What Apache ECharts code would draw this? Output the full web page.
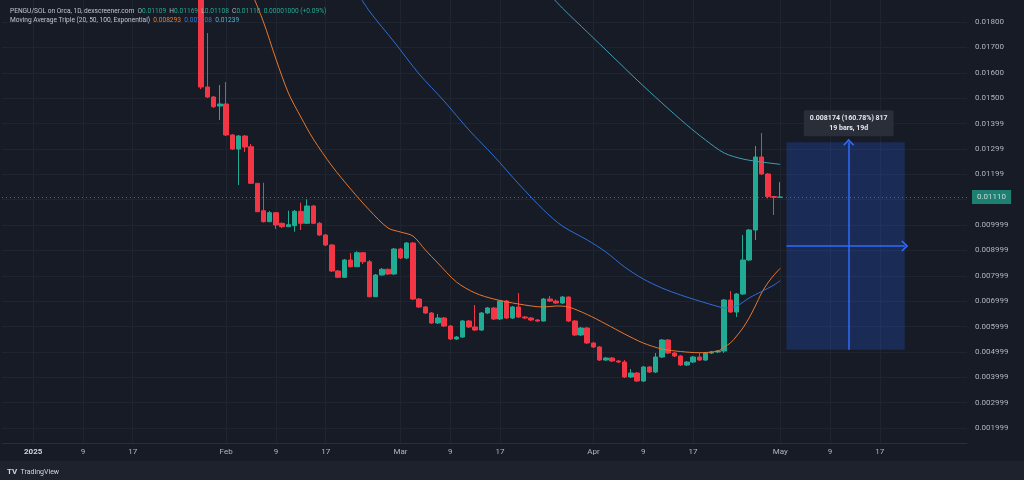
<!DOCTYPE html>
<html>
<head>
<meta charset="utf-8">
<script src="https://cdn.jsdelivr.net/npm/echarts@6/dist/echarts.min.js"></script>
<style>
  html, body { margin: 0; padding: 0; background: #171b26; }
  #chart { width: 1024px; height: 480px; }
</style>
</head>
<body>
<div id="chart"></div>
<script>
// daily candles PENGU/SOL, first visible bar 2025-01-28
const candleStart = '2025-01-28';
const opens = [
  0.01890, 0.015438, 0.015044, 0.014689, 0.014768, 0.013547, 0.012995, 0.013507, 0.013086, 0.011643,
  0.010563, 0.010130, 0.010485, 0.010067, 0.009933, 0.009972, 0.010540, 0.010067, 0.010749, 0.010067,
  0.009606, 0.009212, 0.008187, 0.007939, 0.008620, 0.008356, 0.008908, 0.008553, 0.007174, 0.008029,
  0.008254, 0.008069, 0.009054, 0.008699, 0.009290, 0.007083, 0.006768, 0.006532, 0.006138, 0.006335,
  0.006019, 0.005507, 0.005586, 0.006216, 0.005980, 0.005862, 0.006532, 0.006729, 0.006296, 0.007004,
  0.006335, 0.006768, 0.006374, 0.006335, 0.006256, 0.006216, 0.007083, 0.007004, 0.006926, 0.007162,
  0.006216, 0.005665, 0.005941, 0.005350, 0.005192, 0.004679, 0.004758, 0.004640, 0.004600, 0.004010,
  0.004167, 0.003852, 0.004404, 0.004207, 0.004797, 0.005468, 0.004955, 0.004837, 0.004482, 0.004600,
  0.004797, 0.004679, 0.004955, 0.004994, 0.005034, 0.007044, 0.006571, 0.007281, 0.008620, 0.009803,
  0.012680, 0.012010, 0.011120, 0.011090
];
const closes = [
  0.015438, 0.015044, 0.014662, 0.014768, 0.013547, 0.012995, 0.013507, 0.013074, 0.011643, 0.010524,
  0.010130, 0.010485, 0.010000, 0.009933, 0.010012, 0.010540, 0.010067, 0.010749, 0.010067, 0.009606,
  0.009212, 0.008187, 0.007939, 0.008620, 0.008356, 0.008908, 0.008553, 0.007174, 0.008029, 0.008254,
  0.008069, 0.009054, 0.008699, 0.009290, 0.007083, 0.006768, 0.006532, 0.006138, 0.006335, 0.006019,
  0.005507, 0.005586, 0.006216, 0.005980, 0.005862, 0.006532, 0.006729, 0.006296, 0.007004, 0.006335,
  0.006768, 0.006374, 0.006335, 0.006256, 0.006216, 0.007083, 0.007004, 0.006926, 0.007162, 0.006216,
  0.005665, 0.005941, 0.005350, 0.005192, 0.004679, 0.004758, 0.004640, 0.004600, 0.004010, 0.004167,
  0.003852, 0.004404, 0.004207, 0.004797, 0.005468, 0.004955, 0.004837, 0.004482, 0.004600, 0.004797,
  0.004679, 0.004955, 0.004994, 0.005034, 0.007044, 0.006571, 0.007281, 0.008620, 0.009803, 0.012680,
  0.012010, 0.011120, 0.011090, 0.011100
];
const lows = [
  0.015359, 0.015005, 0.014611, 0.014138, 0.013507, 0.012956, 0.011576, 0.012877, 0.011616, 0.010512,
  0.010098, 0.010118, 0.009842, 0.009882, 0.009921, 0.009736, 0.009803, 0.010039, 0.010039, 0.009566,
  0.009172, 0.008147, 0.007911, 0.007911, 0.008325, 0.008345, 0.008463, 0.007142, 0.007162, 0.008010,
  0.008029, 0.008029, 0.008660, 0.008660, 0.007044, 0.006729, 0.006492, 0.006098, 0.006098, 0.005980,
  0.005468, 0.005468, 0.005546, 0.005941, 0.005822, 0.005822, 0.006492, 0.006256, 0.006256, 0.006296,
  0.006296, 0.006335, 0.006296, 0.006216, 0.006177, 0.006197, 0.006965, 0.006886, 0.006886, 0.006177,
  0.005625, 0.005625, 0.005310, 0.005152, 0.004640, 0.004640, 0.004600, 0.004561, 0.003970, 0.003970,
  0.003813, 0.003813, 0.004167, 0.004167, 0.004758, 0.004915, 0.004797, 0.004443, 0.004443, 0.004561,
  0.004640, 0.004640, 0.004915, 0.004955, 0.004955, 0.006532, 0.006374, 0.007241, 0.008581, 0.009409,
  0.011970, 0.011044, 0.010394, 0.011080
];
const highs = [
  0.01900, 0.017566, 0.015084, 0.015517, 0.015635, 0.013586, 0.013547, 0.013547, 0.013192, 0.011655,
  0.011667, 0.010552, 0.010512, 0.010098, 0.010563, 0.010591, 0.010879, 0.011013, 0.010788, 0.010118,
  0.009645, 0.009251, 0.008226, 0.008660, 0.008896, 0.008967, 0.008936, 0.008620, 0.008069, 0.008305,
  0.008285, 0.009093, 0.009093, 0.009330, 0.009330, 0.007123, 0.006808, 0.006571, 0.006492, 0.006374,
  0.006059, 0.005625, 0.006256, 0.006256, 0.006847, 0.006571, 0.006768, 0.006768, 0.007044, 0.007044,
  0.006808, 0.007320, 0.006414, 0.006374, 0.006296, 0.007123, 0.007202, 0.007064, 0.007202, 0.007182,
  0.006256, 0.005980, 0.005980, 0.005389, 0.005231, 0.004797, 0.004797, 0.004679, 0.004679, 0.004325,
  0.004207, 0.004443, 0.004443, 0.004955, 0.005507, 0.005507, 0.004994, 0.004876, 0.004640, 0.004837,
  0.004955, 0.004994, 0.005034, 0.005073, 0.007083, 0.007399, 0.007320, 0.009606, 0.009842, 0.013113,
  0.013625, 0.012049, 0.011150, 0.011690
];

const ema20Dates = ['2025-02-05','2025-02-07','2025-02-09','2025-02-11','2025-02-13','2025-02-15','2025-02-18',
  '2025-02-21','2025-02-24','2025-02-27','2025-03-01','2025-03-03','2025-03-05','2025-03-07','2025-03-10',
  '2025-03-13','2025-03-16','2025-03-20','2025-03-24','2025-03-26','2025-03-28','2025-03-31','2025-04-03',
  '2025-04-06','2025-04-09','2025-04-12','2025-04-15','2025-04-18','2025-04-21','2025-04-22','2025-04-23',
  '2025-04-24','2025-04-25','2025-04-26','2025-04-27','2025-04-28','2025-04-29','2025-04-30','2025-05-01'];
const ema20Values = [0.019222, 0.018000, 0.016542, 0.015202, 0.014256, 0.013389, 0.012325,
  0.011418, 0.010591, 0.009882, 0.009724, 0.009566, 0.009015, 0.008502, 0.007753,
  0.007320, 0.007083, 0.006886, 0.006768, 0.006808, 0.006768, 0.006472, 0.006098,
  0.005704, 0.005349, 0.005113, 0.005014, 0.004967, 0.005034, 0.005192, 0.005349,
  0.005625, 0.005940, 0.006335, 0.006808, 0.007320, 0.007714, 0.008029, 0.008293];

const ema50Dates = ['2025-02-21','2025-02-24','2025-02-28','2025-03-04','2025-03-08','2025-03-12','2025-03-16',
  '2025-03-20','2025-03-24','2025-03-27','2025-03-31','2025-04-03','2025-04-06','2025-04-09','2025-04-12',
  '2025-04-15','2025-04-18','2025-04-21','2025-04-22','2025-04-24','2025-04-26','2025-04-28','2025-04-30','2025-05-01'];
const ema50Values = [0.019576, 0.018434, 0.017212, 0.015951, 0.014887, 0.013744, 0.012719,
  0.011616, 0.010591, 0.009960, 0.009409, 0.008936, 0.008345, 0.007872, 0.007517,
  0.007241, 0.007005, 0.006788, 0.006729, 0.006808, 0.007123, 0.007379, 0.007635, 0.007808];

const ema100Dates = ['2025-03-24','2025-03-27','2025-03-31','2025-04-04','2025-04-08','2025-04-12','2025-04-16',
  '2025-04-19','2025-04-22','2025-04-25','2025-04-28','2025-05-01'];
const ema100Values = [0.019340, 0.018552, 0.017606, 0.016660, 0.015714, 0.014808, 0.013941,
  0.013350, 0.012837, 0.012601, 0.012483, 0.012390];

// price scale
const priceTicks = [0.002, 0.003, 0.004, 0.005, 0.006, 0.007, 0.008, 0.009, 0.010, 0.011,
  0.012, 0.013, 0.014, 0.015, 0.016, 0.017, 0.018];
const priceLabels = ['0.001999', '0.002999', '0.003999', '0.004999', '0.005999', '0.006999', '0.007999',
  '0.008999', '0.009999', '0.01099', '0.01199', '0.01299', '0.01399', '0.01500', '0.01600', '0.01700', '0.01800'];
const lastPrice = 0.01110;

// measuring tool
const measureFrom = '2025-05-02';
const measureTo = '2025-05-21';
const measureMid = '2025-05-12';
const measureLow = 0.005084;
const measureHigh = 0.013258;
const measureMidPrice = 0.009172;

const monthNames = ['Jan', 'Feb', 'Mar', 'Apr', 'May', 'Jun', 'Jul', 'Aug', 'Sep', 'Oct', 'Nov', 'Dec'];

const categories = [];
for (let i = 0; i < 156; i++) {
  categories.push(new Date(Date.UTC(2024, 11, 27 + i)).toISOString().slice(0, 10));
}
const offset = categories.indexOf(candleStart);
const candleData = categories.map((c, i) => {
  const k = i - offset;
  return k >= 0 && k < opens.length ? [opens[k], closes[k], lows[k], highs[k]] : '-';
});

function isTickDay(value) {
  const day = +value.slice(8, 10);
  return day === 1 || day === 9 || day === 17;
}

const chart = echarts.init(document.getElementById('chart'));
const font = 'Roboto, "Noto Sans", sans-serif';
const chevron = 'path://M0,10 L10,0 L20,10 L18,12 L10,4 L2,12 Z';

const option = {
  backgroundColor: '#171b26',
  animation: false,
  textStyle: { fontFamily: font },
  grid: { left: 2, right: 57, top: 0, bottom: 37 },
  xAxis: {
    type: 'category',
    data: categories,
    boundaryGap: false,
    axisLine: { show: true, lineStyle: { color: '#2a2e39' } },
    axisTick: { show: false },
    axisLabel: {
      interval: (i, v) => isTickDay(v),
      color: '#b2b5be',
      fontSize: 8,
      margin: 5,
      formatter: v => {
        const m = +v.slice(5, 7) - 1, d = +v.slice(8, 10);
        if (m === 0 && d === 1) return '{yr|' + v.slice(0, 4) + '}';
        return d === 1 ? monthNames[m] : String(d);
      },
      rich: { yr: { fontWeight: 'bold', color: '#d1d4dc', fontSize: 8, fontFamily: font } }
    },
    splitLine: { show: true, interval: (i, v) => isTickDay(v), lineStyle: { color: '#1f2431', width: 1 } }
  },
  yAxis: {
    type: 'value',
    position: 'right',
    min: 0.001409,
    max: 0.018867,
    axisLine: { show: false },
    axisTick: { show: false, customValues: priceTicks },
    axisLabel: {
      customValues: priceTicks.filter(v => v !== 0.011),
      color: '#b2b5be',
      fontSize: 8,
      margin: 8,
      formatter: v => {
        const idx = priceTicks.findIndex(t => Math.abs(t - v) < 1e-9);
        return idx >= 0 ? priceLabels[idx] : '';
      }
    },
    splitLine: { show: true, lineStyle: { color: '#1f2431', width: 1 } }
  },
  series: [
    {
      name: 'PENGU/SOL',
      type: 'candlestick',
      data: candleData,
      barWidth: 5,
      itemStyle: {
        color: '#22ab94', color0: '#f23645',
        borderColor: '#22ab94', borderColor0: '#f23645', borderWidth: 1
      }
    },
    {
      name: 'EMA20', type: 'line', smooth: 0.3, showSymbol: false,
      data: ema20Dates.map((d, i) => [d, ema20Values[i]]),
      lineStyle: { color: '#e8782c', width: 1 }, z: 3
    },
    {
      name: 'EMA50', type: 'line', smooth: 0.3, showSymbol: false,
      data: ema50Dates.map((d, i) => [d, ema50Values[i]]),
      lineStyle: { color: '#2e70d4', width: 1 }, z: 3
    },
    {
      name: 'EMA100', type: 'line', smooth: 0.3, showSymbol: false,
      data: ema100Dates.map((d, i) => [d, ema100Values[i]]),
      lineStyle: { color: '#3e9db3', width: 1 }, z: 3
    },
    {
      name: 'measure', type: 'line', data: [], z: 4,
      markArea: {
        silent: true,
        itemStyle: { color: 'rgba(41,98,255,0.22)' },
        data: [[{ coord: [measureFrom, measureHigh] }, { coord: [measureTo, measureLow] }]]
      },
      markLine: {
        silent: true,
        precision: 6,
        symbol: 'none',
        lineStyle: { color: '#2f6bff', width: 1.5, type: 'solid' },
        symbolSize: [11, 7],
        data: [
          {
            yAxis: lastPrice,
            lineStyle: { color: '#22ab94', type: [1, 3], width: 1, opacity: 0.7 },
            label: {
              show: true, position: 'end', distance: 5, formatter: '0.01110',
              backgroundColor: '#22ab94', color: '#ffffff', fontSize: 8, padding: [3, 5], fontFamily: font
            }
          },
          [
            {
              coord: [measureMid, measureLow], symbol: 'none',
              label: {
                show: true, position: 'end', distance: 6,
                backgroundColor: '#2a2e39', padding: [3, 6], borderRadius: 2,
                formatter: '{a|0.008174 (160.78%) 817}\n{a|19 bars, 19d}',
                rich: { a: { color: '#e6e8ee', fontSize: 7, fontWeight: 'bold', lineHeight: 10, align: 'center', fontFamily: font } }
              }
            },
            { coord: [measureMid, measureHigh], symbol: chevron }
          ],
          [
            { coord: [measureFrom, measureMidPrice], symbol: 'none', label: { show: false } },
            { coord: [measureTo, measureMidPrice], symbol: chevron }
          ]
        ]
      }
    }
  ],
  graphic: [
    {
      type: 'rect', silent: true, z: 0,
      shape: { x: 0, y: 461, width: 1024, height: 19 },
      style: { fill: '#1e222d' }
    },
    {
      type: 'text', left: 10, top: 8, z: 100,
      style: {
        text: '{t|PENGU/SOL on Orca, 1D, dexscreener.com}  {k|O}{v|0.01109}  {k|H}{v|0.01169}  {k|L}{v|0.01108}  {k|C}{v|0.01110}  {v|0.00001000 (+0.09%)}',
        fontSize: 6.6, fontFamily: font,
        rich: {
          t: { fill: '#c3c6ce', fontSize: 6.6, fontFamily: font },
          k: { fill: '#b2b5be', fontSize: 6.6, fontFamily: font },
          v: { fill: '#22ab94', fontSize: 6.6, fontFamily: font }
        }
      }
    },
    {
      type: 'text', left: 10, top: 17, z: 100,
      style: {
        text: '{t|Moving Average Triple (20, 50, 100, Exponential)}  {o|0.008293}  {b|0.007808}  {c|0.01239}',
        fontSize: 6.6, fontFamily: font,
        rich: {
          t: { fill: '#c3c6ce', fontSize: 6.6, fontFamily: font },
          o: { fill: '#f57c1f', fontSize: 6.6, fontFamily: font },
          b: { fill: '#2f78e0', fontSize: 6.6, fontFamily: font },
          c: { fill: '#4fb3c8', fontSize: 6.6, fontFamily: font }
        }
      }
    },
    {
      type: 'text', left: 7, top: 466, z: 100,
      style: {
        text: '{l|TV} {n|TradingView}',
        rich: {
          l: { fill: '#d1d4dc', fontSize: 8, fontWeight: 'bold', fontFamily: font },
          n: { fill: '#d1d4dc', fontSize: 7, fontFamily: font }
        }
      }
    }
  ]
};

chart.setOption(option);
window.addEventListener('resize', () => chart.resize());
</script>
</body>
</html>
